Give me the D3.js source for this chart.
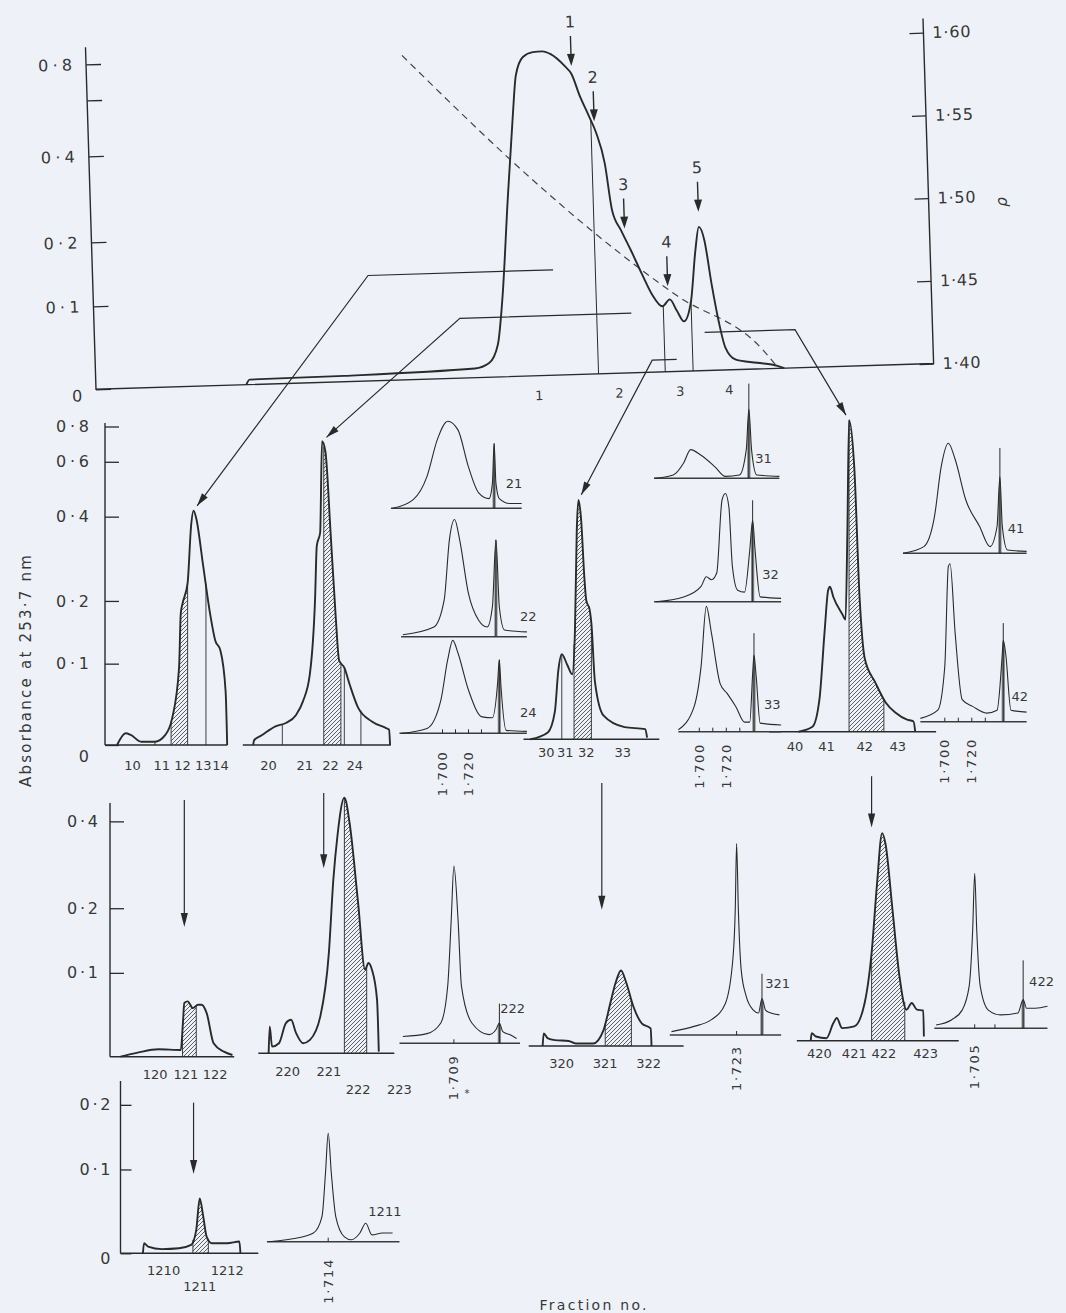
<!DOCTYPE html>
<html lang="en">
<head>
<meta charset="utf-8">
<title>Absorbance profiles of gradient fractions</title>
<script src="https://d3js.org/d3.v7.min.js"></script>
<style>
  body { margin: 0; background: #eef2f8; }
  svg { display: block; }
  text { font-family: "DejaVu Sans", sans-serif; fill: #383838; }
</style>
</head>
<body>
<svg id="fig" width="1066" height="1313"></svg>
<script>
// ================= data =================

// first gradient: position (% of gradient) vs absorbance at 253.7 nm
const mainProfile = [[17.8,0],[18.2,0.006],[29.4,0.007],[44.9,0.011],[46.6,0.017],[47.7,0.039],[48.4,0.094],
  [49.4,0.272],[50.3,0.5],[50.8,0.666],[51.7,0.767],[52.9,0.792],[54.0,0.795],[55.0,0.778],[56.6,0.71],
  [57.4,0.663],[58.3,0.561],[59.3,0.489],[60.1,0.428],[61.0,0.347],[61.7,0.237],[62.7,0.193],[63.8,0.161],
  [65.0,0.124],[66.1,0.094],[67.3,0.079],[68.2,0.087],[69.0,0.073],[69.8,0.060],[70.7,0.084],[71.4,0.158],
  [71.9,0.195],[72.5,0.174],[73.2,0.105],[73.9,0.059],[74.6,0.027],[75.8,0.012],[78.3,0.0075],[80.7,0.003],[81.5,0]];
// gradient density, rho (g/cm3), dashed
const mainDensity = [[37.4,1.596],[52.9,1.516],[58.9,1.488],[69.0,1.446],[79.1,1.411],[80.5,1.402]];
// numbered arrows: x, absorbance at arrow tip
const mainPeaks = [{label:"1",x:57.4,tip:0.709},{label:"2",x:59.9,tip:0.47},{label:"3",x:63.1,tip:0.196},
  {label:"4",x:68.0,tip:0.104},{label:"5",x:71.9,tip:0.228}];
const mainCuts = [59.5, 67.4, 70.7];
const mainFractions = [["1",52.4],["2",61.9],["3",69.1],["4",74.9]];
const absTicksTop = [0, 0.1, 0.2, 0.4, 0.6, 0.8];
const rhoTicks = [1.40, 1.45, 1.50, 1.55, 1.60];
// leader lines: [start x, elbow x] at an absorbance level of the first gradient -> second gradient
const leaderFrom = [[54.5,32.6],[63.6,43.3],[68.8,65.9],[72.2,82.9]];
const leaderLevel = [0.135, 0.072, 0.0145, 0.046];
const leaderTo = ["p1","p2","p3","p4"];

// second gradients (position % vs absorbance)
const prof1 = [[8.6,0],[15.7,0.0145],[20,0.0124],[28.6,0.004],[40,0.004],[48.6,0.0124],[54.3,0.033],[60,0.095],
  [61.4,0.18],[62.9,0.196],[67.1,0.243],[70,0.379],[72,0.422],[74.3,0.395],[80,0.283],[85.7,0.18],[90,0.137],
  [94.3,0.121],[98.6,0.066],[99.9,0]];
const cuts1 = [40, 53.4, 67.1, 82.3];
const hatch1 = [53.4, 67.1];
const labels1 = [["10",21.4],["11",45.7],["12",62.9],["13",80],["14",94.3]];

const prof2 = [[7,0],[7.7,0.006],[12.8,0.012],[22.1,0.023],[29.1,0.027],[36,0.037],[40.7,0.054],[45.3,0.087],
  [48.8,0.202],[50,0.331],[52.3,0.363],[53.5,0.716],[55.8,0.659],[59.3,0.363],[62.8,0.174],[65.1,0.105],
  [68.6,0.095],[72.1,0.075],[77.9,0.046],[87.2,0.029],[96.5,0.021],[98.8,0.019],[99.5,0]];
const cuts2 = [26.7, 54.7, 66.3, 68.6, 79.8];
const hatch2 = [54.7, 66.3];
const labels2 = [["20",17.4],["21",41.9],["22",59.3],["24",75.6]];

const prof3 = [[5.1,0],[17.9,0.0084],[23.1,0.034],[25.6,0.084],[28.2,0.106],[32.1,0.092],[35.9,0.08],[37.9,0.144],
  [39.2,0.35],[40.5,0.44],[42.3,0.385],[44.9,0.238],[46.2,0.192],[48.7,0.177],[50,0.155],[52.6,0.071],[59,0.029],
  [74.4,0.015],[89.7,0.0125],[91,0.002]];
const cuts3 = [28.2, 37.2, 50];
const hatch3 = [37.2, 50];
const labels3 = [["30",16.7],["31",30.8],["32",46.2],["33",73.1]];

const prof4 = [[17.7,0],[26,0.006],[30.2,0.04],[33.3,0.131],[35.4,0.196],[36.5,0.202],[38.5,0.185],[43.8,0.158],
  [45.8,0.149],[46.9,0.33],[47.9,0.76],[51,0.535],[54.2,0.185],[57.3,0.09],[63.5,0.061],[69.8,0.036],[76,0.023],
  [82.3,0.015],[86.5,0.0125],[87.5,0]];
const cuts4 = [47.9, 68.75];
const hatch4 = [47.9, 68.75];
const labels4 = [["40",15.6],["41",34.4],["42",57.3],["43",77.1]];

// third gradients
const prof12 = [[2.9,0],[17.6,0.0048],[35.3,0.0088],[54.4,0.008],[56.2,0.04],[57.4,0.064],[60.3,0.066],[64.7,0.058],
  [69.1,0.062],[72.1,0.062],[76.5,0.052],[82.4,0.016],[91.2,0.006],[98.5,0.002]];
const cuts12 = [55.9, 67.6];
const hatch12 = [55.9, 67.6];
const labels12 = [["120",32.4],["121",58.8],["122",83.8]];
const arrow12 = [57.4, 0.476, 0.171];

const prof22 = [[7.6,0],[8.4,0.032],[10.1,0.008],[15.2,0.012],[20.3,0.036],[24.1,0.04],[27.8,0.024],[32.9,0.012],
  [38,0.016],[45.6,0.044],[51.9,0.126],[55.2,0.259],[58.2,0.359],[63.3,0.472],[67.1,0.389],[73.4,0.204],
  [78.5,0.1],[81,0.11],[83.5,0.1],[87.3,0.064],[88.6,0.002]];
const cuts22 = [63.3, 79.7];
const hatch22 = [63.3, 79.7];
const labels22 = [["220",21.5],["221",51.9],["222",73.4],["223",103.8]];
const arrow22 = [48.1, 0.488, 0.284];

const prof32 = [[9,0],[9.7,0.015],[12.4,0.009],[16.9,0.007],[25.8,0.006],[30.3,0.003],[41.6,0.003],[48.3,0.019],
  [52.8,0.052],[56.2,0.076],[59.6,0.09],[62.9,0.076],[67.4,0.048],[73,0.027],[78.7,0.021],[79.3,0]];
const cuts32 = [49.4, 66.3];
const hatch32 = [49.4, 66.3];
const labels32 = [["320",21.3],["321",49.4],["322",77.5]];
const arrow32 = [47.2, 0.498, 0.181];

const prof42 = [[8.6,0],[9.2,0.009],[11.8,0.005],[18.3,0.003],[22.6,0.021],[24.7,0.027],[28,0.015],[35.5,0.017],
  [41.9,0.045],[46.2,0.106],[49.5,0.217],[52.7,0.336],[54.8,0.311],[59.1,0.173],[63.4,0.077],[67.7,0.037],
  [71,0.045],[74.2,0.037],[78.1,0.036],[78.5,0.005]];
const cuts42 = [46.2, 66.7];
const hatch42 = [46.2, 66.7];
const labels42 = [["420",14],["421",35.5],["422",53.8],["423",79.6]];
const arrow42 = [46.2, 0.503, 0.349];

// fourth gradient
const prof121 = [[14.1,0],[14.9,0.012],[17.9,0.008],[28.2,0.005],[41,0.006],[50,0.01],[53.8,0.028],[56.4,0.0655],
  [59,0.044],[61.5,0.02],[65.4,0.012],[76.9,0.012],[85.9,0.014],[86.7,0]];
const cuts121 = [51.3, 62.8];
const hatch121 = [51.3, 62.8];
const labels121 = [["1210",29.5],["1211",56.4],["1212",76.9]];
const arrow121 = [51.8, 0.205, 0.0945];

// analytical CsCl profiles: buoyant density vs relative absorbance
const dens21 = [[1.6616,0],[1.6775,0.09],[1.6881,0.33],[1.6960,0.71],[1.7040,0.90],[1.7119,0.81],[1.7199,0.43],
  [1.7278,0.16],[1.7358,0.10],[1.7384,0.26],[1.7397,0.67],[1.7411,0.26],[1.7437,0.10],[1.7517,0.05],[1.7609,0.05]];
const dens22 = [[1.6695,0.02],[1.6934,0.10],[1.7013,0.38],[1.7053,1.00],[1.7093,1.21],[1.7132,1.00],[1.7199,0.45],
  [1.7278,0.17],[1.7344,0.10],[1.7384,0.31],[1.7411,1.00],[1.7437,0.31],[1.7477,0.07],[1.7649,0.05]];
const dens24 = [[1.6682,0],[1.6881,0.05],[1.6987,0.34],[1.7040,0.76],[1.7079,0.96],[1.7119,0.83],[1.7199,0.45],
  [1.7305,0.17],[1.7384,0.16],[1.7424,0.52],[1.7437,0.76],[1.7450,0.48],[1.7490,0.03],[1.7649,0.02]];
const dens31 = [[1.6665,0],[1.6807,0.035],[1.6884,0.16],[1.6936,0.30],[1.7013,0.24],[1.7116,0.12],[1.7193,0.02],
  [1.7297,0.035],[1.7348,0.30],[1.7367,0.72],[1.7387,0.30],[1.7426,0.035],[1.7593,0.02]];
const dens32 = [[1.6678,0],[1.6884,0.05],[1.7013,0.16],[1.7052,0.26],[1.7090,0.23],[1.7129,0.30],[1.7168,1.06],
  [1.7193,1.13],[1.7219,0.99],[1.7245,0.37],[1.7284,0.12],[1.7335,0.10],[1.7374,0.54],[1.7395,0.85],[1.7413,0.54],
  [1.7451,0.05],[1.7606,0.035]];
const dens33 = [[1.6845,0.02],[1.6961,0.26],[1.7013,0.68],[1.7052,1.31],[1.7090,1.03],[1.7155,0.50],[1.7206,0.40],
  [1.7271,0.26],[1.7335,0.10],[1.7374,0.10],[1.7395,0.6],[1.7405,0.8],[1.7420,0.6],[1.7451,0.09],[1.7606,0.07]];
const dens41 = [[1.6690,0],[1.6845,0.07],[1.6923,0.38],[1.6974,0.91],[1.7026,1.15],[1.7077,0.98],[1.7155,0.56],
  [1.7258,0.28],[1.7335,0.07],[1.7387,0.28],[1.7408,0.80],[1.7426,0.28],[1.7464,0.035],[1.7606,0.02]];
const dens42 = [[1.6819,0.035],[1.6948,0.12],[1.7000,0.58],[1.7026,1.62],[1.7039,1.65],[1.7077,0.92],[1.7129,0.23],
  [1.7206,0.16],[1.7310,0.09],[1.7387,0.12],[1.7426,0.71],[1.7433,0.85],[1.7451,0.71],[1.7490,0.12],[1.7606,0.10]];
const dens222 = [[1.6712,0.07],[1.6891,0.10],[1.6993,0.21],[1.7044,0.59],[1.7070,1.27],[1.7090,1.83],[1.7121,1.27],
  [1.7146,0.59],[1.7223,0.21],[1.7350,0.09],[1.7401,0.14],[1.7427,0.21],[1.7452,0.12],[1.7503,0.09],[1.7554,0.05]];
const dens321 = [[1.6748,0.035],[1.6915,0.09],[1.7044,0.16],[1.7147,0.33],[1.7204,0.82],[1.7220,1.31],[1.7230,2.00],
  [1.7243,1.31],[1.7264,0.68],[1.7302,0.40],[1.7354,0.26],[1.7392,0.23],[1.7418,0.38],[1.7444,0.26],[1.7483,0.23],[1.7547,0.21]];
const dens422 = [[1.6764,0.035],[1.6880,0.09],[1.6957,0.19],[1.7009,0.44],[1.7035,1.03],[1.7050,1.62],[1.7065,1.03],
  [1.7091,0.44],[1.7151,0.19],[1.7241,0.14],[1.7370,0.16],[1.7409,0.30],[1.7434,0.21],[1.7499,0.21],[1.7589,0.23]];
const dens1211 = [[1.6699,0],[1.6877,0.03],[1.7030,0.09],[1.7094,0.26],[1.7120,0.71],[1.7140,1.12],[1.7163,0.71],
  [1.7196,0.26],[1.7260,0.05],[1.7311,0.02],[1.7375,0.09],[1.7418,0.19],[1.7464,0.07],[1.7541,0.09],[1.7617,0.09]];
// density marker: [density, height of marker line]
const marker21 = [1.7397,0.67], marker22 = [1.7411,1.00], marker24 = [1.7437,0.76];
const marker31 = [1.7367,0.99], marker32 = [1.7395,1.06], marker33 = [1.7405,1.03];
const marker41 = [1.7408,1.10], marker42 = [1.7433,1.03];
const marker222 = [1.7427,0.41], marker321 = [1.7418,0.64], marker422 = [1.7409,0.71];
const densTicks4 = [1.70, 1.71, 1.72, 1.73];
const densLabels2 = [1.700, 1.720];

// ================= layout =================
const ABS_KNOTS = [0, 0.1, 0.2, 0.4, 0.6, 0.8];
const AXIS_SHAPE = [0, 83, 147, 233, 289, 325];   // px height of each knot on the absorbance axes
const INK = "#2a2a2a";
const topLayout = {ox:96, oy:389.3, len:838, angle:-1.76, k:1.0, rhoTop:58.3, axisTop:47, rightTop:44};

const rowAxes = [
  {x:105, base:745, k:0.98, top:423, ticks:[0,0.1,0.2,0.4,0.6,0.8], pad:16, tick:14, zeroDy:11, len:33},
  {x:110, base:1056.7, k:1.01, top:803, ticks:[0.1,0.2,0.4], pad:12, tick:14, zeroDy:0, len:31},
  {x:120.5, base:1253.3, k:1.01, top:1081, ticks:[0,0.1,0.2], pad:10, tick:11, zeroDy:5, len:31}
];

const panels = {
  p1:  {data:prof1, cuts:cuts1, hatch:hatch1, labels:labels1, x0:106.7, x1:227.3, base:745, k:0.98, lblDy:20, from:105},
  p2:  {data:prof2, cuts:cuts2, hatch:hatch2, labels:labels2, x0:242.8, x1:390.8, base:745, k:0.98, lblDy:20},
  p3:  {data:prof3, cuts:cuts3, hatch:hatch3, labels:labels3, x0:523.5, x1:659.3, base:739.3, k:0.98, lblDy:13},
  p4:  {data:prof4, cuts:cuts4, hatch:hatch4, labels:labels4, x0:769, x1:936.1, base:731.7, k:0.98, lblDy:15},
  p12: {data:prof12, cuts:cuts12, hatch:hatch12, labels:labels12, arrow:arrow12, x0:117.1, x1:234.2, base:1056.7, k:1.01, lblDy:18, from:110},
  p22: {data:prof22, cuts:cuts22, hatch:hatch22, labels:labels22, arrow:arrow22, x0:258.3, x1:394.3, base:1053.3, k:1.01, lblDy:[18,18,36,36]},
  p32: {data:prof32, cuts:cuts32, hatch:hatch32, labels:labels32, arrow:arrow32, x0:528.7, x1:683.6, base:1046, k:1.01, lblDy:17},
  p42: {data:prof42, cuts:cuts42, hatch:hatch42, labels:labels42, arrow:arrow42, x0:796.8, x1:958.7, base:1040.7, k:1.01, lblDy:13},
  p121:{data:prof121, cuts:cuts121, hatch:hatch121, labels:labels121, arrow:arrow121, x0:124, x1:258.3, base:1253.3, k:1.01, lblDy:[17,33,17], from:120.5}
};

const insets = [
  {name:"21", data:dens21, marker:marker21, ref:1.700, refX:442.5, ppd:1300, base:508.3, unit:96.8, from:1.6603, to:1.7609, lbl:[1.755,0.26]},
  {name:"22", data:dens22, marker:marker22, ref:1.700, refX:442.5, ppd:1300, base:636.7, unit:96.8, from:1.6682, to:1.7649, lbl:[1.766,0.21]},
  {name:"24", data:dens24, marker:marker24, ref:1.700, refX:442.5, ppd:1300, base:733.3, unit:96.8, from:1.6669, to:1.7649, lbl:[1.766,0.21], ticks:densTicks4, tickLabels:densLabels2, gap:19},
  {name:"31", data:dens31, marker:marker31, ref:1.700, refX:699.3, ppd:1350, base:478.3, unit:95.7, from:1.6665, to:1.7593, lbl:[1.7476,0.21]},
  {name:"32", data:dens32, marker:marker32, ref:1.700, refX:699.3, ppd:1350, base:601.7, unit:95.7, from:1.6665, to:1.7606, lbl:[1.7528,0.28]},
  {name:"33", data:dens33, marker:marker33, ref:1.700, refX:699.3, ppd:1350, base:731.7, unit:95.7, from:1.6845, to:1.7606, lbl:[1.7541,0.28], ticks:densTicks4, tickLabels:densLabels2, gap:13},
  {name:"41", data:dens41, marker:marker41, ref:1.700, refX:944.8, ppd:1350, base:553.3, unit:95.7, from:1.669, to:1.7606, lbl:[1.7527,0.26]},
  {name:"42", data:dens42, marker:marker42, ref:1.700, refX:944.8, ppd:1350, base:721.7, unit:95.7, from:1.6819, to:1.7606, lbl:[1.7556,0.26], ticks:densTicks4, tickLabels:densLabels2, gap:18},
  {name:"222", data:dens222, marker:marker222, ref:1.709, refX:453.9, ppd:1350, base:1043.3, unit:96.8, from:1.6687, to:1.758, lbl:[1.7525,0.36], ticks:[1.709], tickLabels:[1.709], gap:13, star:[1.7187,50]},
  {name:"321", data:dens321, marker:marker321, ref:1.723, refX:736.6, ppd:1350, base:1035, unit:95.7, from:1.6735, to:1.756, lbl:[1.7534,0.54], ticks:[1.723], tickLabels:[1.723], gap:12},
  {name:"422", data:dens422, marker:marker422, ref:1.705, refX:974.7, ppd:1350, base:1028.3, unit:95.7, from:1.6751, to:1.7589, lbl:[1.7545,0.49], ticks:[1.705,1.720], tickLabels:[1.705], gap:17},
  {name:"1211", data:dens1211, ref:1.714, refX:328.2, ppd:1350, base:1241.7, unit:96.8, from:1.6686, to:1.7668, lbl:[1.756,0.31], ticks:[1.714], tickLabels:[1.714], gap:18}
];

// ================= drawing =================
const svg = d3.select("#fig");
svg.append("rect").attr("width", 1066).attr("height", 1313).attr("fill", "#eef2f8");
const defs = svg.append("defs");
defs.append("pattern").attr("id", "hatch").attr("patternUnits", "userSpaceOnUse")
  .attr("width", 4).attr("height", 4)
  .append("path").attr("d", "M-1,1L1,-1M0,4L4,0M3,5L5,3")
  .attr("stroke", "#3a3a3a").attr("stroke-width", 0.8);

const fmtAbs = d => d === 0 ? "0" : d3.format(".1f")(d).replace(".", "\u00b7");
const fmtRho = d => d3.format(".2f")(d).replace(".", "\u00b7");
const fmtDen = d => d3.format(".3f")(d).replace(".", "\u00b7");
let clipCount = 0;

function absScale(base, k) {
  return d3.scaleLinear().domain(ABS_KNOTS).range(AXIS_SHAPE.map(h => base - h * k));
}
function valueAt(data, x) {
  const i = d3.bisector(d => d[0]).left(data, x);
  if (i <= 0) return data[0][1];
  if (i >= data.length) return data[data.length - 1][1];
  const a = data[i - 1], b = data[i];
  return a[1] + (b[1] - a[1]) * (x - a[0]) / (b[0] - a[0]);
}
function arrowHead(g, x1, y1, x2, y2, len = 11, half = 3.4) {
  const a = Math.atan2(y2 - y1, x2 - x1);
  const bx = x2 - len * Math.cos(a), by = y2 - len * Math.sin(a);
  const px = -Math.sin(a) * half, py = Math.cos(a) * half;
  g.append("path").attr("d", `M${x2},${y2}L${bx + px},${by + py}L${bx - px},${by - py}Z`).attr("fill", INK);
}
function styleAxis(sel, size, len) {
  sel.select(".domain").remove();
  sel.selectAll(".tick line").attr("stroke", INK).attr("stroke-width", 1.3);
  sel.selectAll(".tick text").attr("font-family", "DejaVu Sans, sans-serif").attr("font-size", size)
    .attr("fill", "#383838")
    .each(function () {
      const t = d3.select(this);
      if (t.text().length > 1) t.attr("textLength", len).attr("lengthAdjust", "spacing");
    });
}

// ---------- top panel (drawn in its own slightly rotated frame, as in the scan) ----------
const T = topLayout;
const gTop = svg.append("g").attr("transform", `rotate(${T.angle},${T.ox},${T.oy})`);
const xT = d3.scaleLinear().domain([0, 100]).range([T.ox, T.ox + 845]);
const yT = absScale(T.oy, T.k);
const rT = d3.scaleLinear().domain([1.40, 1.60]).range([T.oy, T.rhoTop]);
const rightX = T.ox + T.len;

gTop.append("path")
  .attr("d", `M${xT(0)},${T.axisTop}V${yT(0)}H${rightX}V${T.rightTop}`)
  .attr("fill", "none").attr("stroke", INK).attr("stroke-width", 1.4);

const leftAx = gTop.append("g").attr("transform", `translate(${xT(0)},0)`)
  .call(d3.axisLeft(yT).tickValues(absTicksTop).tickSizeInner(-15).tickSizeOuter(0).tickPadding(14)
    .tickFormat(d => d === 0.6 ? "" : fmtAbs(d)));
styleAxis(leftAx, 16, 34);
leftAx.selectAll(".tick text").filter(d => d === 0).attr("dy", "0.7em");

const rightAx = gTop.append("g").attr("transform", `translate(${rightX},0)`)
  .call(d3.axisRight(rT).tickValues(rhoTicks).tickSizeInner(-14).tickSizeOuter(0).tickPadding(9).tickFormat(fmtRho));
styleAxis(rightAx, 16, 38);

gTop.append("path").datum(mainDensity)
  .attr("d", d3.line().x(d => xT(d[0])).y(d => rT(d[1])).curve(d3.curveMonotoneX))
  .attr("fill", "none").attr("stroke", "#444").attr("stroke-width", 1.2).attr("stroke-dasharray", "7,5");

gTop.selectAll("line.cut").data(mainCuts).join("line").attr("class", "cut")
  .attr("x1", d => xT(d)).attr("x2", d => xT(d))
  .attr("y1", yT(0)).attr("y2", d => yT(valueAt(mainProfile, d)))
  .attr("stroke", INK).attr("stroke-width", 1);

gTop.append("path").datum(mainProfile)
  .attr("d", d3.line().x(d => xT(d[0])).y(d => yT(d[1])).curve(d3.curveMonotoneX))
  .attr("fill", "none").attr("stroke", INK).attr("stroke-width", 1.9);

gTop.selectAll("text.frac").data(mainFractions).join("text").attr("class", "frac")
  .attr("x", d => xT(d[1])).attr("y", yT(0) + 20).attr("text-anchor", "middle")
  .attr("dominant-baseline", "central").attr("font-size", 13).text(d => d[0]);

mainPeaks.forEach(p => {
  const x = xT(p.x), yTip = yT(p.tip);
  gTop.append("line").attr("x1", x).attr("x2", x).attr("y1", yTip - 30).attr("y2", yTip - 6)
    .attr("stroke", INK).attr("stroke-width", 1.4);
  arrowHead(gTop, x, yTip - 30, x, yTip, 12, 4);
  gTop.append("text").attr("x", x).attr("y", yTip - 44).attr("text-anchor", "middle")
    .attr("dominant-baseline", "central").attr("font-size", 16).text(p.label);
});

svg.append("text").attr("transform", "translate(1002,202) rotate(-90)").attr("text-anchor", "middle")
  .attr("dominant-baseline", "central").attr("font-size", 15).attr("font-style", "italic").text("\u03c1");

function toScreen(x, y) {
  const a = T.angle * Math.PI / 180, dx = x - T.ox, dy = y - T.oy;
  return [T.ox + dx * Math.cos(a) - dy * Math.sin(a), T.oy + dx * Math.sin(a) + dy * Math.cos(a)];
}

// ---------- absorbance axes of the lower rows ----------
rowAxes.forEach(r => {
  const y = absScale(r.base, r.k);
  svg.append("line").attr("x1", r.x).attr("x2", r.x).attr("y1", r.top).attr("y2", r.base)
    .attr("stroke", INK).attr("stroke-width", 1.4);
  const ax = svg.append("g").attr("transform", `translate(${r.x},0)`)
    .call(d3.axisLeft(y).tickValues(r.ticks).tickSizeInner(-r.tick).tickSizeOuter(0).tickPadding(r.pad).tickFormat(fmtAbs));
  styleAxis(ax, 16, r.len);
  ax.selectAll(".tick text").filter(d => d === 0).attr("dy", "0.32em").attr("y", r.zeroDy);
});

svg.append("text").attr("transform", "translate(26,671) rotate(-90)").attr("text-anchor", "middle")
  .attr("dominant-baseline", "central").attr("font-size", 15)
  .attr("textLength", 232).attr("lengthAdjust", "spacing").text("Absorbance at 253\u00b77 nm");

svg.append("text").attr("x", 593).attr("y", 1305).attr("text-anchor", "middle")
  .attr("dominant-baseline", "central").attr("font-size", 14)
  .attr("textLength", 107).attr("lengthAdjust", "spacing").text("Fraction no.");

// ---------- fraction profiles ----------
const panelScales = {};
Object.entries(panels).forEach(([key, p]) => {
  const x = d3.scaleLinear().domain([0, 100]).range([p.x0, p.x1]);
  const y = absScale(p.base, p.k);
  panelScales[key] = {x, y};
  const g = svg.append("g");
  g.append("line").attr("x1", p.from ?? p.x0).attr("x2", p.x1).attr("y1", p.base).attr("y2", p.base)
    .attr("stroke", INK).attr("stroke-width", 1.4);

  const id = "clip" + (clipCount++);
  defs.append("clipPath").attr("id", id).append("rect")
    .attr("x", x(p.hatch[0])).attr("width", x(p.hatch[1]) - x(p.hatch[0])).attr("y", 0).attr("height", p.base);
  g.append("path").datum(p.data)
    .attr("d", d3.area().x(d => x(d[0])).y0(p.base).y1(d => y(d[1])).curve(d3.curveMonotoneX))
    .attr("fill", "url(#hatch)").attr("clip-path", `url(#${id})`);

  g.selectAll("line.cut").data(p.cuts).join("line").attr("class", "cut")
    .attr("x1", d => x(d)).attr("x2", d => x(d)).attr("y1", p.base).attr("y2", d => y(valueAt(p.data, d)))
    .attr("stroke", INK).attr("stroke-width", 0.9);

  g.append("path").datum(p.data)
    .attr("d", d3.line().x(d => x(d[0])).y(d => y(d[1])).curve(d3.curveMonotoneX))
    .attr("fill", "none").attr("stroke", INK).attr("stroke-width", 1.9);

  g.selectAll("text").data(p.labels).join("text")
    .attr("x", d => x(d[1])).attr("y", (d, i) => p.base + (Array.isArray(p.lblDy) ? p.lblDy[i] : p.lblDy))
    .attr("text-anchor", "middle").attr("dominant-baseline", "central").attr("font-size", 13).text(d => d[0]);

  if (p.arrow) {
    const ax = x(p.arrow[0]), y1 = y(p.arrow[1]), y2 = y(p.arrow[2]);
    g.append("line").attr("x1", ax).attr("x2", ax).attr("y1", y1).attr("y2", y2 - 6)
      .attr("stroke", INK).attr("stroke-width", 1.2);
    arrowHead(g, ax, y1, ax, y2, 14, 3.6);
  }
});

// leader lines from the first gradient to the re-run fractions
leaderFrom.forEach((f, i) => {
  const s = toScreen(xT(f[0]), yT(leaderLevel[i]));
  const e = toScreen(xT(f[1]), yT(leaderLevel[i]));
  const p = panels[leaderTo[i]], sc = panelScales[leaderTo[i]];
  const pk = d3.greatest(p.data, d => d[1]);
  const px = sc.x(pk[0]), py = sc.y(pk[1]);
  const L = Math.hypot(px - e[0], py - e[1]);
  const gap = 6;
  const tx = px - (px - e[0]) / L * gap, ty = py - (py - e[1]) / L * gap;
  svg.append("path").attr("d", `M${s[0]},${s[1]}L${e[0]},${e[1]}L${tx},${ty}`)
    .attr("fill", "none").attr("stroke", INK).attr("stroke-width", 1.2);
  arrowHead(svg, e[0], e[1], tx, ty, 13, 3.6);
});

// ---------- analytical density profiles ----------
insets.forEach(c => {
  const x = d3.scaleLinear().domain([c.ref, c.ref + 0.02]).range([c.refX, c.refX + c.ppd * 0.02]);
  const y = d3.scaleLinear().domain([0, 1]).range([c.base, c.base - c.unit]);
  const g = svg.append("g");
  g.append("line").attr("x1", x(c.from)).attr("x2", x(c.to)).attr("y1", c.base).attr("y2", c.base)
    .attr("stroke", "#3c3c3c").attr("stroke-width", 1.6);
  if (c.ticks) {
    g.selectAll("line.tk").data(c.ticks).join("line").attr("class", "tk")
      .attr("x1", d => x(d)).attr("x2", d => x(d)).attr("y1", c.base).attr("y2", c.base - 4)
      .attr("stroke", INK).attr("stroke-width", 1);
  }
  if (c.marker) {
    const id = "clip" + (clipCount++);
    defs.append("clipPath").attr("id", id).append("rect")
      .attr("x", x(c.marker[0] - 0.0012)).attr("width", x(c.marker[0] + 0.0012) - x(c.marker[0] - 0.0012))
      .attr("y", 0).attr("height", c.base);
    g.append("path").datum(c.data)
      .attr("d", d3.area().x(d => x(d[0])).y0(c.base).y1(d => y(d[1])).curve(d3.curveMonotoneX))
      .attr("fill", "#2a2a2a").attr("opacity", 0.55).attr("clip-path", `url(#${id})`);
    g.append("line").attr("x1", x(c.marker[0])).attr("x2", x(c.marker[0]))
      .attr("y1", c.base).attr("y2", y(c.marker[1])).attr("stroke", INK).attr("stroke-width", 1);
  }
  g.append("path").datum(c.data)
    .attr("d", d3.line().x(d => x(d[0])).y(d => y(d[1])).curve(d3.curveMonotoneX))
    .attr("fill", "none").attr("stroke", INK).attr("stroke-width", 1.1);
  g.append("text").attr("x", x(c.lbl[0])).attr("y", y(c.lbl[1])).attr("text-anchor", "middle")
    .attr("dominant-baseline", "central").attr("font-size", 13).text(c.name);
  if (c.tickLabels) {
    g.selectAll("text.dl").data(c.tickLabels).join("text").attr("class", "dl")
      .attr("transform", d => `translate(${x(d)},${c.base + c.gap}) rotate(-90)`)
      .attr("text-anchor", "end").attr("dominant-baseline", "central").attr("font-size", 13)
      .attr("textLength", 44).attr("lengthAdjust", "spacing").text(fmtDen);
  }
  if (c.star) {
    g.append("text").attr("x", x(c.star[0])).attr("y", c.base + c.star[1]).attr("text-anchor", "middle")
      .attr("dominant-baseline", "central").attr("font-size", 10).text("*");
  }
});
</script>
</body>
</html>
